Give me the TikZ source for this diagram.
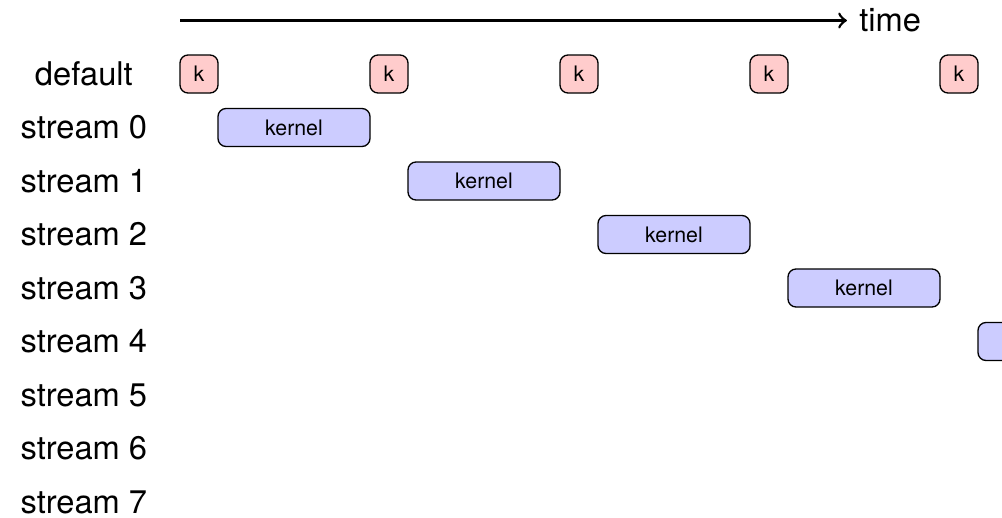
\documentclass[tikz,border=0pt]{standalone}
\usepackage{fontspec}
\setmainfont{TeX Gyre Heros}

\begin{document}
\begin{tikzpicture}[x=11.4pt, y=16.05pt]
  \tikzset{every node/.style={font=\fontsize{9.8}{12}\selectfont}}
  \tikzset{launch/.style={draw, rounded corners=2.4pt, fill=red!20, inner sep=0pt,
      minimum width=11.4pt, minimum height=11.4pt, font=\fontsize{6.4}{8}\selectfont}}
  \tikzset{kernel/.style={launch, fill=blue!20, minimum width=45.6pt}}
  \useasboundingbox (-4.737,1.383) rectangle (21.632,-8.299);
  % time axis
  \coordinate(T-0) at (0,1);
  \coordinate(T-1) at (17.55,1);
  \draw[->, line width=0.8pt] (T-0) -- (T-1) node[right](time){time};
  % rows
  \node(row-d) at (-2.53,0){default};
  \foreach \s in {0,...,7}
    \node(row-\s) at (-2.53,-\s-1){stream \s};
  % launches
  \foreach \n in {0,...,4}
    \node[launch](k-\n) at (5*\n+0.5,0){k};
  \foreach \n in {0,...,4}
    \node[kernel](kern-\n) at (5*\n+3,-\n-1){kernel};
\end{tikzpicture}
\end{document}
